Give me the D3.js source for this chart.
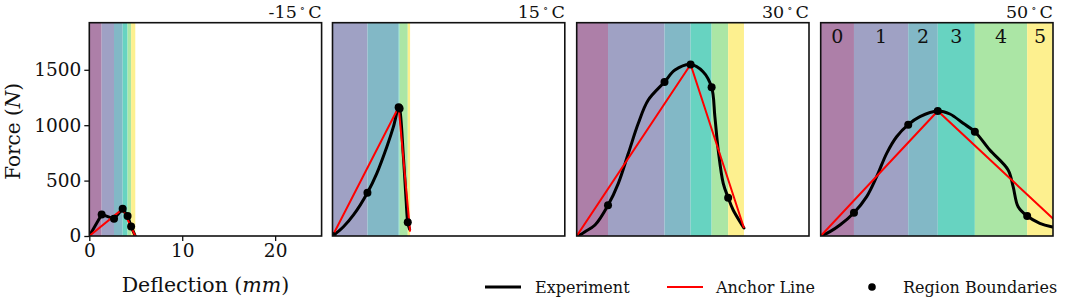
<!DOCTYPE html>
<html><head><meta charset="utf-8">
<script src="https://cdn.jsdelivr.net/npm/d3@7"></script>
<style>body{margin:0;background:#fff} svg{display:block} text{font-family:"DejaVu Serif",serif;fill:#111}</style>
</head><body><svg id="c" width="1065" height="299"></svg>
<script>
// ---------- data ----------
const panelTitles = ["-15", "15", "30", "50"];
const regionLabels = ["0", "1", "2", "3", "4", "5"];
const regionColors = ["#ad7fa8", "#9fa1c4", "#82b8c6", "#67d3c1", "#abe6a5", "#fdf08f"];
const xTicks = [0, 10, 20];
const yTicks = [0, 500, 1000, 1500];
const legendLabels = ["Experiment", "Anchor Line", "Region Boundaries"];

// -15 C
const bounds_m15 = [0, 1.33, 2.66, 3.59, 4.12, 4.5, 4.95];
const expX_m15 = [0, 1.33, 2.66, 3.59, 4.12, 4.5, 4.95];
const expY_m15 = [0, 195, 155, 245, 180, 85, 0];
const dotX_m15 = [1.33, 2.66, 3.59, 4.12, 4.5];
const dotY_m15 = [195, 155, 245, 180, 85];
const ancX_m15 = [0, 3.59, 4.95];
const ancY_m15 = [0, 245, 0];

// 15 C
const bounds_15 = [0, 0, 3.76, 7.12, 7.22, 8.1, 8.35];
const expX_15 = [0, 1.18, 2.26, 3.76, 4.77, 5.85, 6.56, 7.12, 7.22, 7.63, 7.92, 8.1, 8.3];
const expY_15 = [0, 84, 190, 391, 566, 806, 987, 1163, 1150, 716, 325, 123, 60];
const dotX_15 = [0, 3.76, 7.12, 7.22, 8.1];
const dotY_15 = [0, 391, 1163, 1150, 123];
const ancX_15 = [0, 7.12, 8.35];
const ancY_15 = [0, 1163, 40];

// 30 C
const bounds_30 = [0, 3.37, 9.45, 12.26, 14.52, 16.3, 18.0];
const expX_30 = [0, 0.4, 0.89, 1.97, 3.37, 4.48, 5.56, 6.63, 7.7, 9.45, 10.57, 12.26, 13.6, 14.52, 14.87, 15.23, 15.77, 16.3, 16.84, 17.91, 18.0];
const expY_30 = [0, 12, 39, 99, 277, 475, 746, 1017, 1227, 1390, 1498, 1548, 1483, 1342, 1077, 776, 475, 346, 235, 84, 72];
const dotX_30 = [3.37, 9.45, 12.26, 14.52, 16.3];
const dotY_30 = [277, 1390, 1548, 1342, 346];
const ancX_30 = [0, 12.26, 18.0];
const ancY_30 = [0, 1548, 72];

// 50 C
const bounds_50 = [0, 3.58, 9.42, 12.6, 16.59, 22.22, 26.5];
const expX_50 = [0, 1.0, 2.07, 3.58, 4.95, 6.02, 7.1, 8.17, 9.42, 10.68, 12.6, 13.9, 15.33, 16.59, 18.2, 20.17, 20.71, 21.25, 22.22, 23.58, 24.84, 26.0];
const expY_50 = [0, 39, 99, 210, 355, 535, 746, 896, 1005, 1077, 1128, 1101, 1017, 941, 776, 596, 445, 264, 180, 115, 84, 70];
const dotX_50 = [3.58, 9.42, 12.6, 16.59, 22.22];
const dotY_50 = [210, 1005, 1128, 941, 180];
const ancX_50 = [0, 12.6, 26.5];
const ancY_50 = [0, 1128, 40];

const panels = [
  {title: panelTitles[0], bounds: bounds_m15, ex: expX_m15, ey: expY_m15, dx: dotX_m15, dy: dotY_m15, ax: ancX_m15, ay: ancY_m15, linear: true},
  {title: panelTitles[1], bounds: bounds_15, ex: expX_15, ey: expY_15, dx: dotX_15, dy: dotY_15, ax: ancX_15, ay: ancY_15},
  {title: panelTitles[2], bounds: bounds_30, ex: expX_30, ey: expY_30, dx: dotX_30, dy: dotY_30, ax: ancX_30, ay: ancY_30},
  {title: panelTitles[3], bounds: bounds_50, ex: expX_50, ey: expY_50, dx: dotX_50, dy: dotY_50, ax: ancX_50, ay: ancY_50, labels: true}
];

// ---------- layout ----------
const svg = d3.select("#c");
const lefts = [89.3, 332.5, 576.7, 820.7];
const pw = 232.3, pTop = 22.7, pBottom = 236;
const ph = pBottom - pTop;
const x = d3.scaleLinear().domain([0, 25]).range([0, pw]);
const y = d3.scaleLinear().domain([0, 1925]).range([ph, 0]);

panels.forEach((p, i) => {
  const g = svg.append("g").attr("transform", `translate(${lefts[i]},${pTop})`);
  const cid = "clip" + i;
  g.append("clipPath").attr("id", cid).append("rect").attr("width", pw).attr("height", ph);
  const inner = g.append("g").attr("clip-path", `url(#${cid})`);
  // bands
  for (let k = 0; k < 6; k++) {
    const x0 = x(p.bounds[k]), x1 = x(p.bounds[k + 1]);
    inner.append("rect").attr("x", x0).attr("y", 0).attr("width", Math.max(0, x1 - x0)).attr("height", ph)
      .attr("fill", regionColors[k]);
    if (p.labels) {
      const cx = (x0 + Math.min(x1, pw)) / 2;
      g.append("text").attr("x", cx).attr("y", 20).attr("text-anchor", "middle")
        .attr("font-size", 19).text(regionLabels[k]);
    }
  }
  const curve = p.linear ? d3.curveLinear : d3.curveCatmullRom.alpha(0.5);
  inner.append("path").datum(p.ex.map((v, j) => [v, p.ey[j]]))
    .attr("d", d3.line().x(d => x(d[0])).y(d => y(d[1])).curve(curve))
    .attr("fill", "none").attr("stroke", "#000")
    .attr("stroke-width", 3).attr("stroke-linejoin", "round").attr("stroke-linecap", "round");
  inner.append("path").datum(p.ax.map((v, j) => [v, p.ay[j]]))
    .attr("d", d3.line().x(d => x(d[0])).y(d => y(d[1]))).attr("fill", "none").attr("stroke", "#ff0000")
    .attr("stroke-width", 2);
  inner.selectAll("circle.d").data(p.dx.map((v, j) => [v, p.dy[j]])).join("circle")
    .attr("cx", d => x(d[0])).attr("cy", d => y(d[1])).attr("r", 4).attr("fill", "#000");
  // frame
  g.append("rect").attr("width", pw).attr("height", ph).attr("fill", "none")
    .attr("stroke", "#111").attr("stroke-width", 1.6);
  // title
  const t = g.append("text").attr("x", pw).attr("y", -5).attr("text-anchor", "end").attr("font-size", 17.5);
  t.append("tspan").text(p.title);
  t.append("tspan").attr("dx", 3).attr("dy", -6).attr("font-size", 11).text("\u2218");
  t.append("tspan").attr("dx", 3).attr("dy", 6).text("C");
  if (i === 0) {
    const xa = g.append("g").attr("transform", `translate(0,${ph})`)
      .call(d3.axisBottom(x).tickValues(xTicks).tickSize(5).tickPadding(3).tickFormat(d3.format("d")));
    xa.select(".domain").remove();
    xa.selectAll("text").attr("font-size", 18.5).attr("font-family", "DejaVu Serif").attr("fill", "#111");
    xa.selectAll("line").attr("stroke", "#111").attr("stroke-width", 1.3);
    const ya = g.append("g")
      .call(d3.axisLeft(y).tickValues(yTicks).tickSize(5).tickPadding(3).tickFormat(d3.format("d")));
    ya.select(".domain").remove();
    ya.selectAll("text").attr("font-size", 18.5).attr("font-family", "DejaVu Serif").attr("fill", "#111");
    ya.selectAll("line").attr("stroke", "#111").attr("stroke-width", 1.3);
    // axis labels
    const xl = g.append("text").attr("x", pw / 2).attr("y", ph + 56).attr("text-anchor", "middle").attr("font-size", 20.5);
    xl.append("tspan").text("Deflection (");
    xl.append("tspan").attr("font-style", "italic").text("mm");
    xl.append("tspan").text(")");
    const yl = svg.append("text").attr("transform", `translate(19.5,${pTop + ph / 2 + 2}) rotate(-90)`)
      .attr("text-anchor", "middle").attr("font-size", 20);
    yl.append("tspan").text("Force (");
    yl.append("tspan").attr("font-style", "italic").text("N");
    yl.append("tspan").text(")");
  }
});

// ---------- legend ----------
const ly = 287;
const lg = svg.append("g");
lg.append("line").attr("x1", 485).attr("x2", 521).attr("y1", ly).attr("y2", ly).attr("stroke", "#000").attr("stroke-width", 3);
lg.append("text").attr("x", 535).attr("y", ly + 6).attr("font-size", 16).text(legendLabels[0]);
lg.append("line").attr("x1", 667).attr("x2", 703).attr("y1", ly).attr("y2", ly).attr("stroke", "#ff0000").attr("stroke-width", 2);
lg.append("text").attr("x", 716).attr("y", ly + 6).attr("font-size", 16).text(legendLabels[1]);
lg.append("circle").attr("cx", 872).attr("cy", ly).attr("r", 3.8).attr("fill", "#000");
lg.append("text").attr("x", 903).attr("y", ly + 6).attr("font-size", 16).text(legendLabels[2]);
</script></body></html>
